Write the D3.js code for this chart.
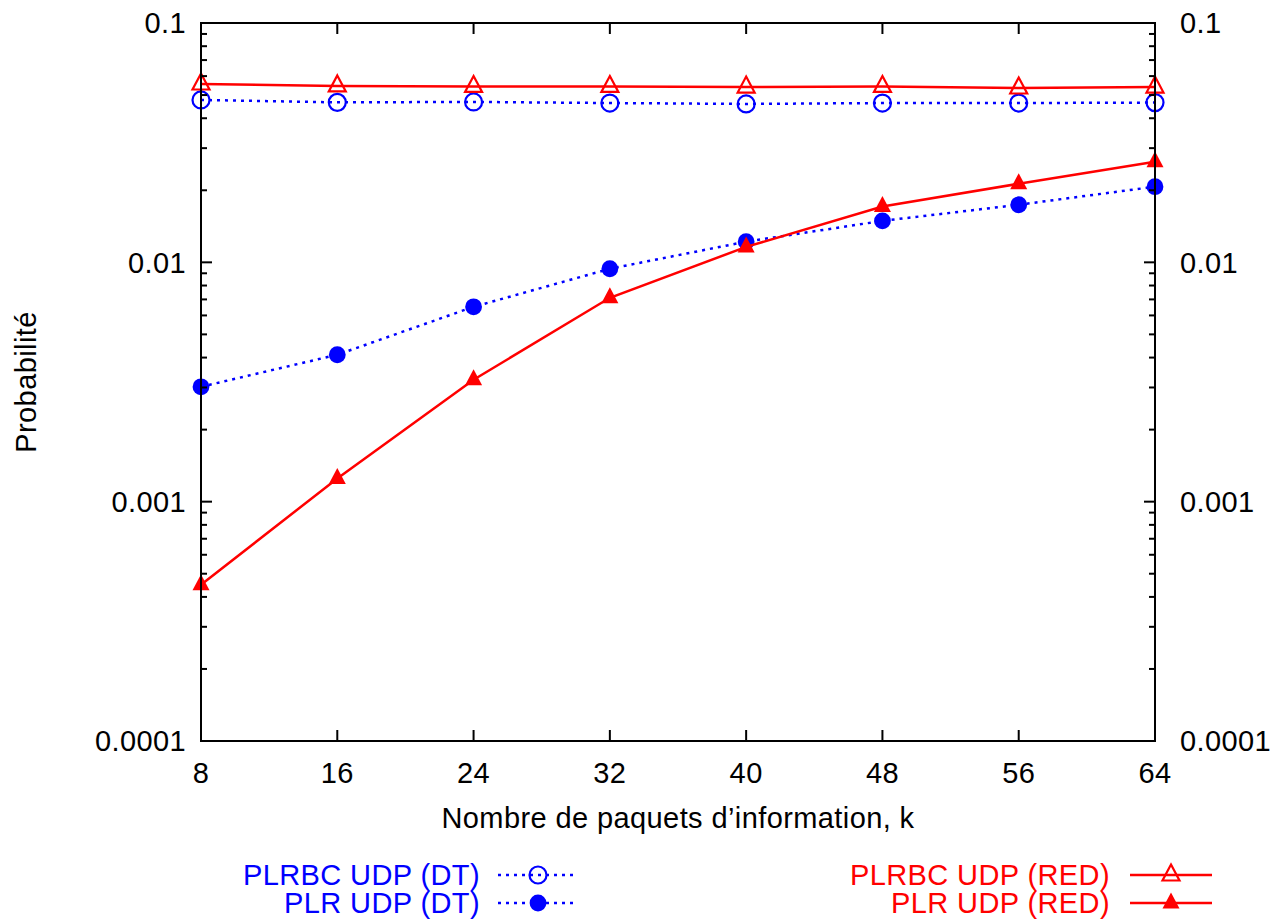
<!DOCTYPE html>
<html>
<head>
<meta charset="utf-8">
<script src="https://cdn.jsdelivr.net/npm/d3@7"></script>
<style>
  body { margin: 0; background: #fff; }
  svg { display: block; font-family: "Liberation Sans", Arial, sans-serif; letter-spacing: 0.4px; }
</style>
</head>
<body>
<svg id="chart" width="1272" height="920"></svg>
<script>
// k values on the x axis
const kValues = [8, 16, 24, 32, 40, 48, 56, 64];

// series
const plrbcDT  = [0.0477, 0.0466, 0.0468, 0.0463, 0.0459, 0.0463, 0.0463, 0.0465];
const plrDT    = [0.00302, 0.00411, 0.00652, 0.0094, 0.0122, 0.0149, 0.0174, 0.0207];
const plrbcRED = [0.0556, 0.0546, 0.0543, 0.0543, 0.0540, 0.0543, 0.0535, 0.0540];
const plrRED   = [0.00045, 0.00125, 0.00323, 0.00711, 0.0116, 0.0171, 0.0213, 0.0263];

const yTickLabels = ["0.0001", "0.001", "0.01", "0.1"];
const yTickValues = [0.0001, 0.001, 0.01, 0.1];

const blue = "#0000ff", red = "#ff0000";
const fontSize = 29;

let svg = d3.select("#chart");
let plotLeft = 201, plotRight = 1155, plotTop = 23, plotBottom = 741;

let x = d3.scaleLinear().domain([8, 64]).range([plotLeft, plotRight]);
let y = d3.scaleLog().domain([0.0001, 0.1]).range([plotBottom, plotTop]);

// minor ticks 2..9 in each decade
let minorTicks = [];
[0.0001, 0.001, 0.01].forEach((d) => {
  for (let m = 2; m <= 9; m++) minorTicks.push(d * m);
});

let drawAxes = () => {
  let g = svg.append("g").attr("stroke", "#000").attr("stroke-width", 2);

  // inward ticks: bottom & top (x), left & right (y)
  kValues.forEach((k) => {
    g.append("line").attr("x1", x(k)).attr("x2", x(k)).attr("y1", plotBottom).attr("y2", plotBottom - 11);
    g.append("line").attr("x1", x(k)).attr("x2", x(k)).attr("y1", plotTop).attr("y2", plotTop + 11);
  });
  yTickValues.forEach((v) => {
    g.append("line").attr("x1", plotLeft).attr("x2", plotLeft + 11).attr("y1", y(v)).attr("y2", y(v));
    g.append("line").attr("x1", plotRight).attr("x2", plotRight - 11).attr("y1", y(v)).attr("y2", y(v));
  });
  minorTicks.forEach((v) => {
    g.append("line").attr("x1", plotLeft).attr("x2", plotLeft + 6).attr("y1", y(v)).attr("y2", y(v));
    g.append("line").attr("x1", plotRight).attr("x2", plotRight - 6).attr("y1", y(v)).attr("y2", y(v));
  });

  g.append("rect")
   .attr("x", plotLeft).attr("y", plotTop)
   .attr("width", plotRight - plotLeft).attr("height", plotBottom - plotTop)
   .attr("fill", "none");

  let labels = svg.append("g").attr("font-size", fontSize).attr("fill", "#000");

  labels.selectAll(".xlab")
        .data(kValues)
        .enter()
        .append("text")
        .attr("x", (d) => x(d))
        .attr("y", 783)
        .attr("text-anchor", "middle")
        .text((d) => d);

  labels.selectAll(".ylabL")
        .data(yTickValues)
        .enter()
        .append("text")
        .attr("x", 186)
        .attr("y", (d) => y(d))
        .attr("dy", "0.36em")
        .attr("text-anchor", "end")
        .text((d, i) => yTickLabels[i]);

  labels.selectAll(".ylabR")
        .data(yTickValues)
        .enter()
        .append("text")
        .attr("x", 1180)
        .attr("y", (d) => y(d))
        .attr("dy", "0.36em")
        .attr("text-anchor", "start")
        .text((d, i) => yTickLabels[i]);

  labels.append("text")
        .attr("x", (plotLeft + plotRight) / 2)
        .attr("y", 828)
        .attr("text-anchor", "middle")
        .text("Nombre de paquets d\u2019information, k");

  labels.append("text")
        .attr("transform", "translate(36, 382) rotate(-90)")
        .attr("text-anchor", "middle")
        .text("Probabilité");
};

let trianglePath = (cx, cy) => {
  let hw = 8.5, up = 10.5, down = 5.5;
  return `M${cx},${cy - up}L${cx + hw},${cy + down}L${cx - hw},${cy + down}Z`;
};

let drawMarker = (g, type, cx, cy, color) => {
  if (type === "circleOpen") {
    g.append("circle").attr("cx", cx).attr("cy", cy).attr("r", 8.5)
     .attr("fill", "none").attr("stroke", color).attr("stroke-width", 2.2);
  } else if (type === "circle") {
    g.append("circle").attr("cx", cx).attr("cy", cy).attr("r", 8.4).attr("fill", color);
  } else if (type === "triangleOpen") {
    g.append("path").attr("d", trianglePath(cx, cy))
     .attr("fill", "none").attr("stroke", color).attr("stroke-width", 2.2);
  } else {
    g.append("path").attr("d", trianglePath(cx, cy)).attr("fill", color);
  }
};

const series = [
  { name: "PLRBC UDP (DT)",  values: plrbcDT,  color: blue, dash: "3,5", marker: "circleOpen" },
  { name: "PLR UDP (DT)",    values: plrDT,    color: blue, dash: "3,5", marker: "circle" },
  { name: "PLRBC UDP (RED)", values: plrbcRED, color: red,  dash: null,  marker: "triangleOpen" },
  { name: "PLR UDP (RED)",   values: plrRED,   color: red,  dash: null,  marker: "triangle" }
];

let line = d3.line().x((d) => x(d[0])).y((d) => y(d[1]));

let drawSeries = () => {
  series.forEach((s) => {
    let pts = d3.zip(kValues, s.values);
    let g = svg.append("g");
    g.append("path")
     .attr("d", line(pts))
     .attr("fill", "none")
     .attr("stroke", s.color)
     .attr("stroke-width", 2.5)
     .attr("stroke-dasharray", s.dash);
    pts.forEach((p) => drawMarker(g, s.marker, x(p[0]), y(p[1]), s.color));
  });
};

let drawLegend = () => {
  // two columns: DT on the left, RED on the right
  const cols = [
    { textX: 480, x1: 498, x2: 576, mx: 538 },
    { textX: 1110, x1: 1130, x2: 1212, mx: 1171 }
  ];
  const rows = [875, 903];
  series.forEach((s, i) => {
    let c = cols[Math.floor(i / 2)], ry = rows[i % 2];
    let g = svg.append("g");
    g.append("text")
     .attr("x", c.textX).attr("y", ry).attr("dy", "0.36em")
     .attr("text-anchor", "end")
     .attr("font-size", fontSize)
     .attr("fill", s.color)
     .text(s.name);
    g.append("line")
     .attr("x1", c.x1).attr("x2", c.x2).attr("y1", ry).attr("y2", ry)
     .attr("stroke", s.color).attr("stroke-width", 2.5)
     .attr("stroke-dasharray", s.dash);
    drawMarker(g, s.marker, c.mx, ry, s.color);
  });
};

drawSeries();
drawAxes();
drawLegend();
</script>
</body>
</html>
